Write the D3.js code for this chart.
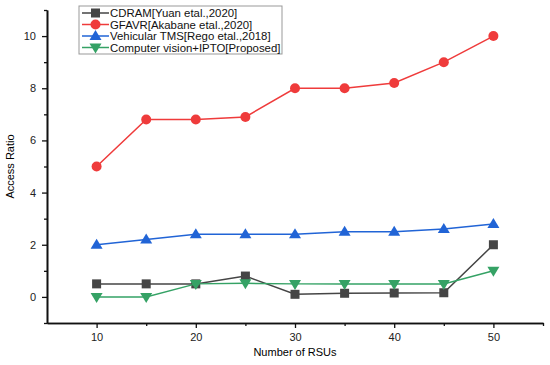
<!DOCTYPE html>
<html>
<head>
<meta charset="utf-8">
<script src="https://cdn.jsdelivr.net/npm/d3@7"></script>
<style>
  body { margin: 0; background: #fff; }
  svg { font-family: "Liberation Sans", Arial, sans-serif; }
</style>
</head>
<body>
<svg id="chart" width="550" height="365"></svg>
<script>
// Data
const rsus = [10, 15, 20, 25, 30, 35, 40, 45, 50];
const cdram = [0.5, 0.5, 0.5, 0.8, 0.1, 0.14, 0.15, 0.16, 2.0];
const gfavr = [5.0, 6.8, 6.8, 6.9, 8.0, 8.0, 8.2, 9.0, 10.0];
const vehicular = [2.0, 2.2, 2.4, 2.4, 2.4, 2.5, 2.5, 2.6, 2.8];
const proposed = [0.0, 0.0, 0.5, 0.52, 0.5, 0.5, 0.5, 0.5, 1.0];
const seriesNames = ["CDRAM[Yuan etal.,2020]", "GFAVR[Akabane etal.,2020]",
  "Vehicular TMS[Rego etal.,2018]", "Computer vision+IPTO[Proposed]"];
const xTicks = [10, 20, 30, 40, 50];
const yTicks = [0, 2, 4, 6, 8, 10];

const series = [
  {name: seriesNames[0], values: cdram, color: "#454545", marker: "square"},
  {name: seriesNames[1], values: gfavr, color: "#ef3b3b", marker: "circle"},
  {name: seriesNames[2], values: vehicular, color: "#2164d6", marker: "up"},
  {name: seriesNames[3], values: proposed, color: "#35a265", marker: "down"}
];

const svg = d3.select("#chart");
const x = d3.scaleLinear().domain([5, 55]).range([47, 543]);
const y = d3.scaleLinear().domain([-1, 11]).range([323, 10]);

// Axes (major + minor ticks)
svg.append("g").attr("transform", `translate(0,${y(-1)})`)
  .call(d3.axisBottom(x).tickValues(xTicks).tickSize(5).tickSizeOuter(0).tickPadding(5));
svg.append("g").attr("transform", `translate(0,${y(-1)})`)
  .call(d3.axisBottom(x).tickValues([15, 25, 35, 45, 55]).tickSize(3).tickFormat("").tickSizeOuter(0));
svg.append("g").attr("transform", `translate(${x(5)},0)`)
  .call(d3.axisLeft(y).tickValues(yTicks).tickSize(5).tickSizeOuter(0).tickPadding(6));
svg.append("g").attr("transform", `translate(${x(5)},0)`)
  .call(d3.axisLeft(y).tickValues([-1, 1, 3, 5, 7, 9, 11]).tickSize(3).tickFormat("").tickSizeOuter(0));

svg.selectAll(".domain").attr("stroke", "#111").attr("stroke-width", 1.6);
svg.selectAll(".tick line").attr("stroke", "#111").attr("stroke-width", 1.3);
svg.selectAll(".tick text").style("font-size", "11px").attr("fill", "#222");

// Axis titles
svg.append("text")
  .attr("transform", `translate(14,${y(5)}) rotate(-90)`)
  .attr("text-anchor", "middle")
  .style("font-size", "11px")
  .text("Access Ratio");
svg.append("text")
  .attr("x", x(30))
  .attr("y", 356)
  .attr("text-anchor", "middle")
  .style("font-size", "11px")
  .text("Number of RSUs");

// Markers
function drawMarker(g, type, color, cx, cy) {
  if (type === "square") {
    g.append("rect").attr("x", cx - 4.5).attr("y", cy - 4.5).attr("width", 9).attr("height", 9).attr("fill", color);
  } else if (type === "circle") {
    g.append("circle").attr("cx", cx).attr("cy", cy).attr("r", 5).attr("fill", color);
  } else if (type === "up") {
    g.append("path").attr("d", `M${cx},${cy - 6}L${cx + 6},${cy + 4}L${cx - 6},${cy + 4}Z`).attr("fill", color);
  } else {
    g.append("path").attr("d", `M${cx},${cy + 6}L${cx + 6},${cy - 4}L${cx - 6},${cy - 4}Z`).attr("fill", color);
  }
}

const line = d3.line().x(d => x(d[0])).y(d => y(d[1]));

series.forEach(s => {
  const pts = rsus.map((r, i) => [r, s.values[i]]);
  const g = svg.append("g");
  g.append("path").datum(pts)
    .attr("d", line)
    .attr("fill", "none")
    .attr("stroke", s.color)
    .attr("stroke-width", 1.5);
  pts.forEach(p => drawMarker(g, s.marker, s.color, x(p[0]), y(p[1])));
});

// Legend
const legend = svg.append("g").attr("transform", "translate(79,6)");
legend.append("rect").attr("width", 203).attr("height", 48)
  .attr("fill", "#fff").attr("stroke", "#999").attr("stroke-width", 1);
series.forEach((s, i) => {
  const ly = 7 + i * 11.5;
  legend.append("line").attr("x1", 3).attr("x2", 30).attr("y1", ly).attr("y2", ly)
    .attr("stroke", s.color).attr("stroke-width", 1.5);
  drawMarker(legend, s.marker, s.color, 16.5, ly);
  legend.append("text").attr("x", 31).attr("y", ly + 4)
    .style("font-size", "11.4px").attr("fill", "#111").text(s.name);
});
</script>
</body>
</html>
